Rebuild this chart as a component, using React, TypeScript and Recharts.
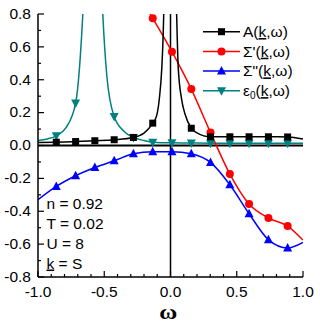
import { LineChart, Line, XAxis, YAxis, ReferenceLine } from 'recharts';

// marker positions (omega) shared by all series
const markW = [-0.862, -0.716, -0.571, -0.425, -0.28, -0.134, 0.011, 0.157, 0.302, 0.448, 0.593, 0.739, 0.884];

// A(k,w)
const aW = [-1.0, -0.862, -0.716, -0.571, -0.425, -0.28, -0.2, -0.134, -0.105, -0.085, -0.065, -0.055, -0.045, 0, 0.04, 0.05, 0.058, 0.084, 0.11, 0.157, 0.2, 0.302, 0.448, 0.593, 0.739, 0.884, 1.0];
const aV = [0.018, 0.02, 0.024, 0.029, 0.035, 0.049, 0.075, 0.136, 0.18, 0.28, 0.48, 0.68, 1.0, 3.0, 1.0, 0.68, 0.48, 0.28, 0.19, 0.105, 0.077, 0.053, 0.053, 0.053, 0.053, 0.052, 0.04];

// Sigma'(k,w)
const rW = [-0.2, -0.134, 0.011, 0.157, 0.302, 0.448, 0.593, 0.739, 0.884, 1.0];
const rV = [0.86, 0.774, 0.571, 0.343, 0.079, -0.174, -0.356, -0.441, -0.49, -0.575];

// Sigma''(k,w)
const bW = [-1.0, -0.862, -0.716, -0.571, -0.425, -0.28, -0.134, 0.011, 0.157, 0.302, 0.448, 0.593, 0.739, 0.884, 1.0];
const bV = [-0.33, -0.249, -0.184, -0.134, -0.093, -0.05, -0.038, -0.038, -0.05, -0.103, -0.239, -0.415, -0.573, -0.624, -0.59];

// eps0(k,w)
const eW = [-1.0, -0.93, -0.862, -0.79, -0.716, -0.68, -0.662, -0.64, -0.62, -0.56, -0.535, -0.511, -0.48, -0.425, -0.35, -0.28, -0.2, -0.134, 0.011, 0.157, 0.302, 0.448, 0.593, 0.739, 0.884, 1.0];
const eV = [0.03, 0.04, 0.059, 0.107, 0.258, 0.55, 0.8, 1.3, 2.0, 2.0, 1.3, 0.8, 0.42, 0.176, 0.085, 0.049, 0.03, 0.02, 0.016, 0.015, 0.014, 0.014, 0.013, 0.013, 0.013, 0.013];

const xTicks = [-1, -0.9, -0.8, -0.7, -0.6, -0.5, -0.4, -0.3, -0.2, -0.1, 0, 0.1, 0.2, 0.3, 0.4, 0.5, 0.6, 0.7, 0.8, 0.9, 1];
const yTicks = [-0.8, -0.7, -0.6, -0.5, -0.4, -0.3, -0.2, -0.1, 0, 0.1, 0.2, 0.3, 0.4, 0.5, 0.6, 0.7, 0.8];

const notes = ['n = 0.92', 'T = 0.02', 'U = 8'];

const W = 320;
const H = 327;
const PL = 38;
const PR = 303;
const PT = 14;
const PB = 277;
const FS = 15.5;
const FONT = "Arial, 'Liberation Sans', sans-serif";

const toData = (w: number[], v: number[]) => w.map((x, i) => ({ w: x, v: v[i], m: markW.includes(x) }));

const aData = toData(aW, aV);
const rData = toData(rW, rV);
const bData = toData(bW, bV);
const eData = toData(eW, eV);

const isMajor = (v: number, step: number) => Math.abs(v / step - Math.round(v / step)) < 1e-6;

const Marker = ({ shape, x, y, color }: any) => {
  if (shape === 'square') return <rect x={x - 3.5} y={y - 3.5} width={7} height={7} fill={color} />;
  if (shape === 'circle') return <circle cx={x} cy={y} r={4} fill={color} />;
  if (shape === 'up') return <polygon points={`${x},${y - 5} ${x - 4.5},${y + 3.5} ${x + 4.5},${y + 3.5}`} fill={color} />;
  return <polygon points={`${x},${y + 5} ${x - 4.5},${y - 3.5} ${x + 4.5},${y - 3.5}`} fill={color} />;
};

const makeDot = (shape: string, color: string) => (p: any) => {
  const { cx, cy, payload, index } = p;
  if (!payload || !payload.m || cx == null) return <g key={index} />;
  return <Marker key={index} shape={shape} x={cx} y={cy} color={color} />;
};

const BottomTick = (p: any) => {
  const v = p.payload.value;
  const major = isMajor(v, 0.5);
  return (
    <g>
      <line x1={p.x} x2={p.x} y1={PB} y2={PB - (major ? 6 : 3)} stroke='#000' strokeWidth={1.2} />
      {major && (
        <text x={p.x} y={PB + 20} textAnchor='middle' fontSize={FS} fontFamily={FONT} fill='#000'>
          {v.toFixed(1)}
        </text>
      )}
    </g>
  );
};

const TopTick = (p: any) => {
  const major = isMajor(p.payload.value, 0.5);
  return <line x1={p.x} x2={p.x} y1={PT} y2={PT + (major ? 6 : 3)} stroke='#000' strokeWidth={1.2} />;
};

const LeftTick = (p: any) => {
  const v = p.payload.value;
  const major = isMajor(v, 0.2);
  return (
    <g>
      <line x1={PL} x2={PL + (major ? 6 : 3)} y1={p.y} y2={p.y} stroke='#000' strokeWidth={1.2} />
      {major && (
        <text x={PL - 7} y={p.y + 4.8} textAnchor='end' fontSize={FS} fontFamily={FONT} fill='#000'>
          {v.toFixed(1)}
        </text>
      )}
    </g>
  );
};

const RightTick = (p: any) => {
  const major = isMajor(p.payload.value, 0.2);
  return <line x1={PR} x2={PR - (major ? 6 : 3)} y1={p.y} y2={p.y} stroke='#000' strokeWidth={1.2} />;
};

const legendRows = [
  { shape: 'square', color: '#000000', name: 'A' },
  { shape: 'circle', color: '#ff0000', name: "Σ'" },
  { shape: 'up', color: '#0000ff', name: 'Σ"' },
  { shape: 'down', color: '#008080', name: 'ε' },
];

const App = () => {
  const axisLine = { stroke: '#000', strokeWidth: 1.5 };
  return (
    <div style={{ position: 'absolute', left: 0, top: 0, width: W, height: H, background: '#fff' }}>
      <LineChart width={W} height={H} margin={{ top: PT, right: W - PR, bottom: 20, left: 8 }}>
        <XAxis
          dataKey='w'
          type='number'
          domain={[-1, 1]}
          ticks={xTicks}
          interval={0}
          allowDataOverflow
          height={30}
          tickLine={false}
          axisLine={axisLine}
          tick={BottomTick}
        />
        <XAxis
          xAxisId='top'
          orientation='top'
          dataKey='w'
          type='number'
          domain={[-1, 1]}
          ticks={xTicks}
          interval={0}
          allowDataOverflow
          height={0}
          tickLine={false}
          axisLine={axisLine}
          tick={TopTick}
        />
        <YAxis
          type='number'
          domain={[-0.8, 0.8]}
          ticks={yTicks}
          interval={0}
          allowDataOverflow
          width={30}
          tickLine={false}
          axisLine={axisLine}
          tick={LeftTick}
        />
        <YAxis
          yAxisId='right'
          orientation='right'
          type='number'
          domain={[-0.8, 0.8]}
          ticks={yTicks}
          interval={0}
          allowDataOverflow
          width={0}
          tickLine={false}
          axisLine={axisLine}
          tick={RightTick}
        />
        <ReferenceLine y={0} stroke='#000' strokeWidth={2} />
        <ReferenceLine x={0} stroke='#000' strokeWidth={1.5} />
        <Line data={eData} dataKey='v' type='monotone' stroke='#008080' strokeWidth={1.5} dot={makeDot('down', '#008080')} activeDot={false} isAnimationActive={false} />
        <Line data={bData} dataKey='v' type='monotone' stroke='#0000ff' strokeWidth={1.5} dot={makeDot('up', '#0000ff')} activeDot={false} isAnimationActive={false} />
        <Line data={rData} dataKey='v' type='monotone' stroke='#ff0000' strokeWidth={1.5} dot={makeDot('circle', '#ff0000')} activeDot={false} isAnimationActive={false} />
        <Line data={aData} dataKey='v' type='monotone' stroke='#000000' strokeWidth={1.5} dot={makeDot('square', '#000000')} activeDot={false} isAnimationActive={false} />
      </LineChart>
      <svg width={W} height={H} style={{ position: 'absolute', left: 0, top: 0, pointerEvents: 'none' }}>
        {legendRows.map((r, i) => {
          const y = 31.7 + i * 19.7;
          return (
            <g key={r.name}>
              <line x1={203} x2={240} y1={y} y2={y} stroke={r.color} strokeWidth={1.5} />
              <Marker shape={r.shape} x={221.5} y={y} color={r.color} />
              <text x={243} y={y + 5.3} fontSize={FS} fontFamily={FONT} fill='#000'>
                {r.name}
                {r.name === 'ε' && (
                  <tspan fontSize={10} dy={3}>0</tspan>
                )}
                <tspan dy={r.name === 'ε' ? -3 : 0}>(</tspan>
                <tspan style={{ textDecoration: 'underline' }}>k</tspan>
                <tspan>,ω)</tspan>
              </text>
            </g>
          );
        })}
        {notes.map((t, i) => (
          <text key={t} x={46.5} y={208.5 + i * 20} fontSize={FS} fontFamily={FONT} fill='#000'>
            {t}
          </text>
        ))}
        <text x={46.5} y={268.5} fontSize={FS} fontFamily={FONT} fill='#000'>
          <tspan style={{ textDecoration: 'underline' }}>k</tspan>
          <tspan> = S</tspan>
        </text>
        <text
          x={168.3}
          y={318.5}
          textAnchor='middle'
          fontSize={20}
          fontWeight='bold'
          textLength={18}
          lengthAdjust='spacingAndGlyphs'
          fontFamily="'Liberation Serif', 'Times New Roman', serif"
          fill='#000'
        >
          ω
        </text>
      </svg>
    </div>
  );
};

export default App;
